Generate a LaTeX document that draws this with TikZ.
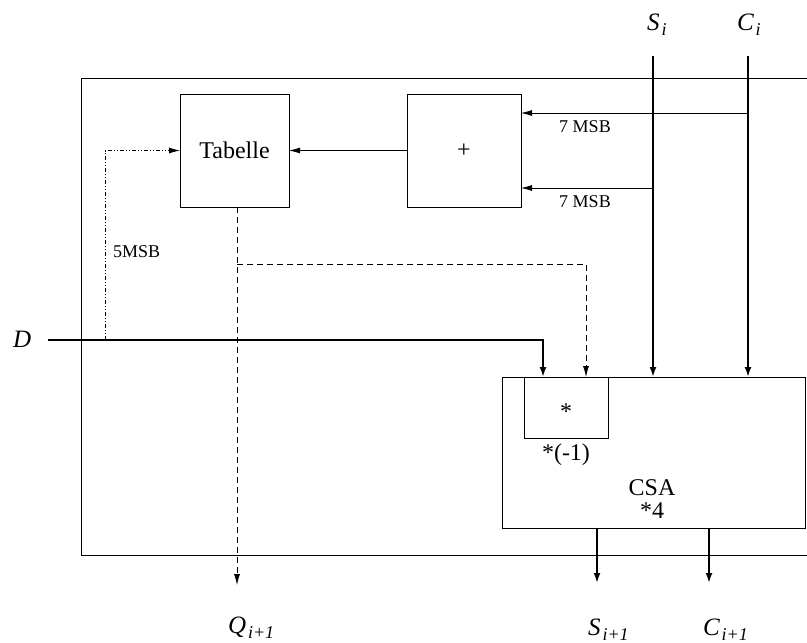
\documentclass[tikz,border=0pt]{standalone}
\usepackage{fontspec}
\setmainfont{Liberation Serif}
\usetikzlibrary{arrows.meta}
\newcommand{\bigtxt}{\fontsize{24}{28}\selectfont}
\newcommand{\smalltxt}{\fontsize{18}{21}\selectfont}
\newcommand{\sig}[2]{{\fontsize{25}{28}\selectfont\itshape #1}\kern2pt\raisebox{-5pt}{\fontsize{18}{21}\selectfont\itshape #2}}
\begin{document}
\begin{tikzpicture}[x=1pt,y=-1pt,
  thinl/.style={line width=0.8pt},
  thickl/.style={line width=2pt},
  tipt/.style={-{Latex[length=11pt,width=6pt]}},
  tipk/.style={-{Latex[length=10pt,width=7pt]}},
  dashdot/.style={dash pattern=on 4pt off 2pt on 1pt off 2pt on 1pt off 2pt},
  dashl/.style={dash pattern=on 6pt off 4pt},
  box/.style={draw,line width=0.8pt,inner sep=0pt,outer sep=0pt},
  txt/.style={inner sep=0pt,outer sep=0pt}]
\useasboundingbox (0,0) rectangle (807,643);
% outer frame
\draw[thinl] (807,78) -- (81,78) -- (81,555) -- (807,555);
% boxes
\node[box,minimum width=109pt,minimum height=113pt,font=\bigtxt] (tab) at (234.5,150.5) {Tabelle};
\node[box,minimum width=114pt,minimum height=113pt,font=\bigtxt] (plus) at (464,150.5) {+};
\node[box,minimum width=303pt,minimum height=151pt] (csa) at (653.5,452.5) {};
\node[box,minimum width=84pt,minimum height=61pt] (mul) at (566,407.5) {};
% texts
\node[txt,font=\bigtxt,anchor=base] (star) at (566,419) {*};
\node[txt,font=\bigtxt,anchor=base] (mone) at (566,460) {*(-1)};
\node[txt,font=\bigtxt,anchor=base] (csat) at (652,495) {CSA};
\node[txt,font=\bigtxt,anchor=base] (four) at (652,518) {*4};
\node[txt,font=\smalltxt,anchor=base] (l1) at (585,132) {7 MSB};
\node[txt,font=\smalltxt,anchor=base] (l2) at (585,207) {7 MSB};
\node[txt,font=\smalltxt,anchor=base west] (l3) at (113,257) {5MSB};
% signal labels
\node[txt,anchor=base west] (si) at (647,30) {\sig{S}{i}};
\node[txt,anchor=base west] (ci) at (737,30) {\sig{C}{i}};
\node[txt,anchor=base west] (dl) at (13,347) {{\fontsize{25}{28}\selectfont\itshape D}};
\node[txt,anchor=base west] (ql) at (228,633) {\sig{Q}{i+1}};
\node[txt,anchor=base west] (sl) at (588,635) {\sig{S}{i+1}};
\node[txt,anchor=base west] (cl) at (703,635) {\sig{C}{i+1}};
% coordinates
\coordinate (sT) at (653,56);
\coordinate (cT) at (748,56);
\coordinate (cJ) at (748,113);
\coordinate (sJ) at (653,188);
\coordinate (dS) at (48,340);
\coordinate (dT) at (543,340);
\coordinate (dd) at (105,340);
\coordinate (qT) at (237,207);
\coordinate (qB) at (237,585);
\coordinate (br) at (237,264);
\coordinate (mT) at (586,377);
\coordinate (o1) at (597,528);
\coordinate (o1e) at (597,583);
\coordinate (o2) at (709,528);
\coordinate (o2e) at (709,583);
% connectors
\draw[thickl,tipk] (sT) -- (sT |- csa.north);
\draw[thickl,tipk] (cT) -- (cT |- csa.north);
\draw[thinl,tipt] (cJ) -- (cJ -| plus.east);
\draw[thinl,tipt] (sJ) -- (sJ -| plus.east);
\draw[thinl,tipt] (plus.west) -- (tab.east);
\draw[thickl,tipk] (dS) -- (dT) -- (dT |- csa.north);
\draw[thinl,dashdot,tipt] (dd) |- (tab.west);
\draw[thinl,dashl,tipt] (qT) -- (qB);
\draw[thinl,dashl,tipt] (br) -| (mT);
\draw[thickl,tipk] (o1) -- (o1e);
\draw[thickl,tipk] (o2) -- (o2e);
\end{tikzpicture}
\end{document}
